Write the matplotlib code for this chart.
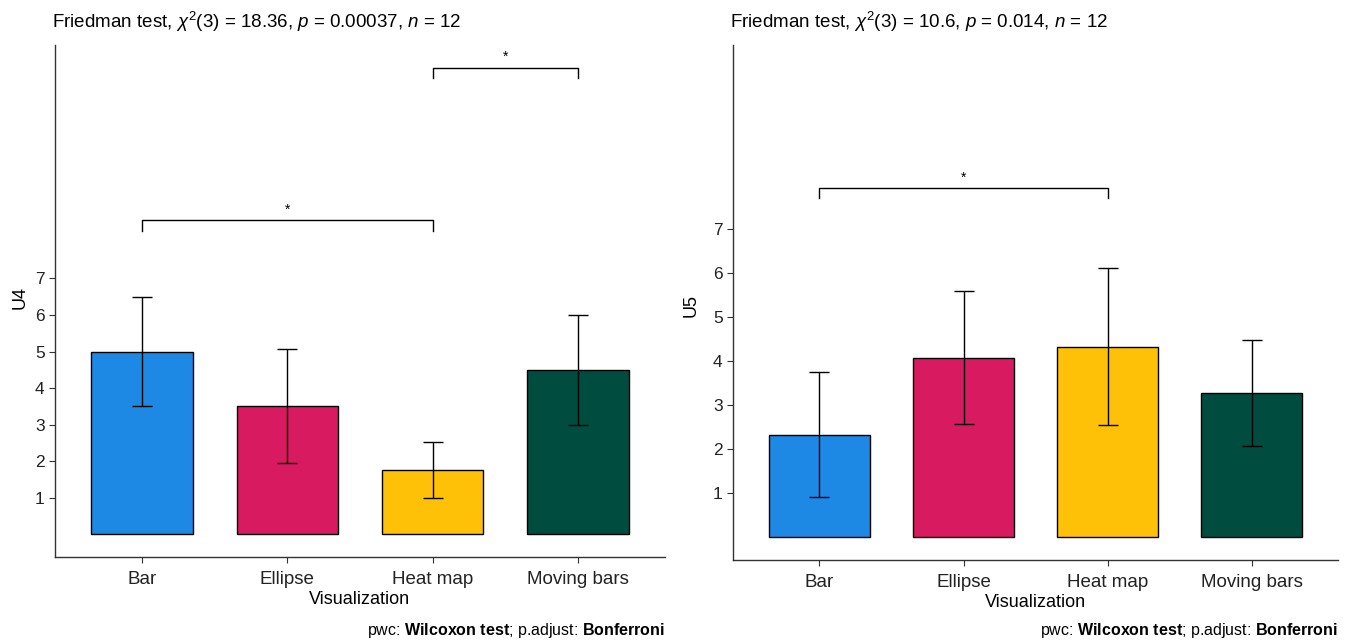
import matplotlib
matplotlib.use("Agg")
import matplotlib.pyplot as plt
import numpy as np

plt.rcParams['font.family'] = ['Liberation Sans', 'DejaVu Sans']
plt.rcParams['mathtext.fontset'] = 'custom'
plt.rcParams['mathtext.rm'] = 'Liberation Sans'
plt.rcParams['mathtext.it'] = 'Liberation Sans:italic'
plt.rcParams['mathtext.bf'] = 'Liberation Sans:bold'

categories = ['Bar', 'Ellipse', 'Heat map', 'Moving bars']
colors = ['#1E88E5', '#D81B60', '#FFC107', '#004D40']

u4_mean = [5.0, 3.5, 1.75, 4.5]
u4_sd = [1.5, 1.56, 0.77, 1.5]
u5_mean = [2.33, 4.08, 4.33, 3.27]
u5_sd = [1.43, 1.5, 1.78, 1.2]

# brackets: (group i, group j, y level)
u4_brackets = [(0, 2, 8.6), (2, 3, 12.78)]
u5_brackets = [(0, 2, 7.93)]

u4_title = r'Friedman test, $\chi^2$(3) = 18.36, $p$ = 0.00037, $n$ = 12'
u5_title = r'Friedman test, $\chi^2$(3) = 10.6, $p$ = 0.014, $n$ = 12'
caption = r'pwc: $\mathbf{Wilcoxon\ test}$; p.adjust: $\mathbf{Bonferroni}$'


def draw_panel(ax, means, sds, brackets, ylabel, title, ylim, tick_drop, ylab_pos):
    x = np.arange(len(categories))
    ax.bar(x, means, width=0.7, color=colors, edgecolor='black', linewidth=1.0, zorder=2)
    ax.errorbar(x, means, yerr=sds, fmt='none', ecolor='black', elinewidth=1.0,
                capsize=7, capthick=1.0, zorder=3)
    for i, j, y in brackets:
        ax.plot([i, i, j, j], [y - tick_drop, y, y, y - tick_drop], color='black', lw=1.0)
        ax.text((i + j) / 2, y + tick_drop * 0.3, '*', ha='center', va='bottom', fontsize=10)
    ax.set_xlim(-0.6, 3.6)
    ax.set_ylim(*ylim)
    ax.set_yticks([1, 2, 3, 4, 5, 6, 7])
    ax.set_xticks(x)
    ax.set_xticklabels(categories)
    ax.tick_params(labelsize=12.5, length=4, width=0.8, colors='#333333', labelcolor='#222222')
    ax.tick_params(axis='x', labelsize=13.5, pad=6)
    ax.set_xlabel('Visualization', fontsize=13, labelpad=2)
    ax.set_ylabel(ylabel, fontsize=13)
    ax.yaxis.set_label_coords(*ylab_pos)
    for s in ['top', 'right']:
        ax.spines[s].set_visible(False)
    for s in ['left', 'bottom']:
        ax.spines[s].set_linewidth(1.0)
        ax.spines[s].set_color('#333333')
    ax.set_title(title, loc='left', fontsize=13.5, pad=12, x=-0.005)
    right = ax.get_position().x1
    ax.figure.text(right, 0.017, caption, ha='right', va='center', fontsize=11.5)


fig = plt.figure(figsize=(13.48, 6.41), dpi=100)
ax1 = fig.add_axes([0.0408, 0.131, 0.4525, 0.799])
ax2 = fig.add_axes([0.5438, 0.1264, 0.4488, 0.8034])

draw_panel(ax1, u4_mean, u4_sd, u4_brackets, 'U4', u4_title, (-0.63, 13.4), 0.3, (-0.044, 0.506))
draw_panel(ax2, u5_mean, u5_sd, u5_brackets, 'U5', u5_title, (-0.52, 11.18), 0.22, (-0.055, 0.495))

fig.savefig('out.png', dpi=100)
